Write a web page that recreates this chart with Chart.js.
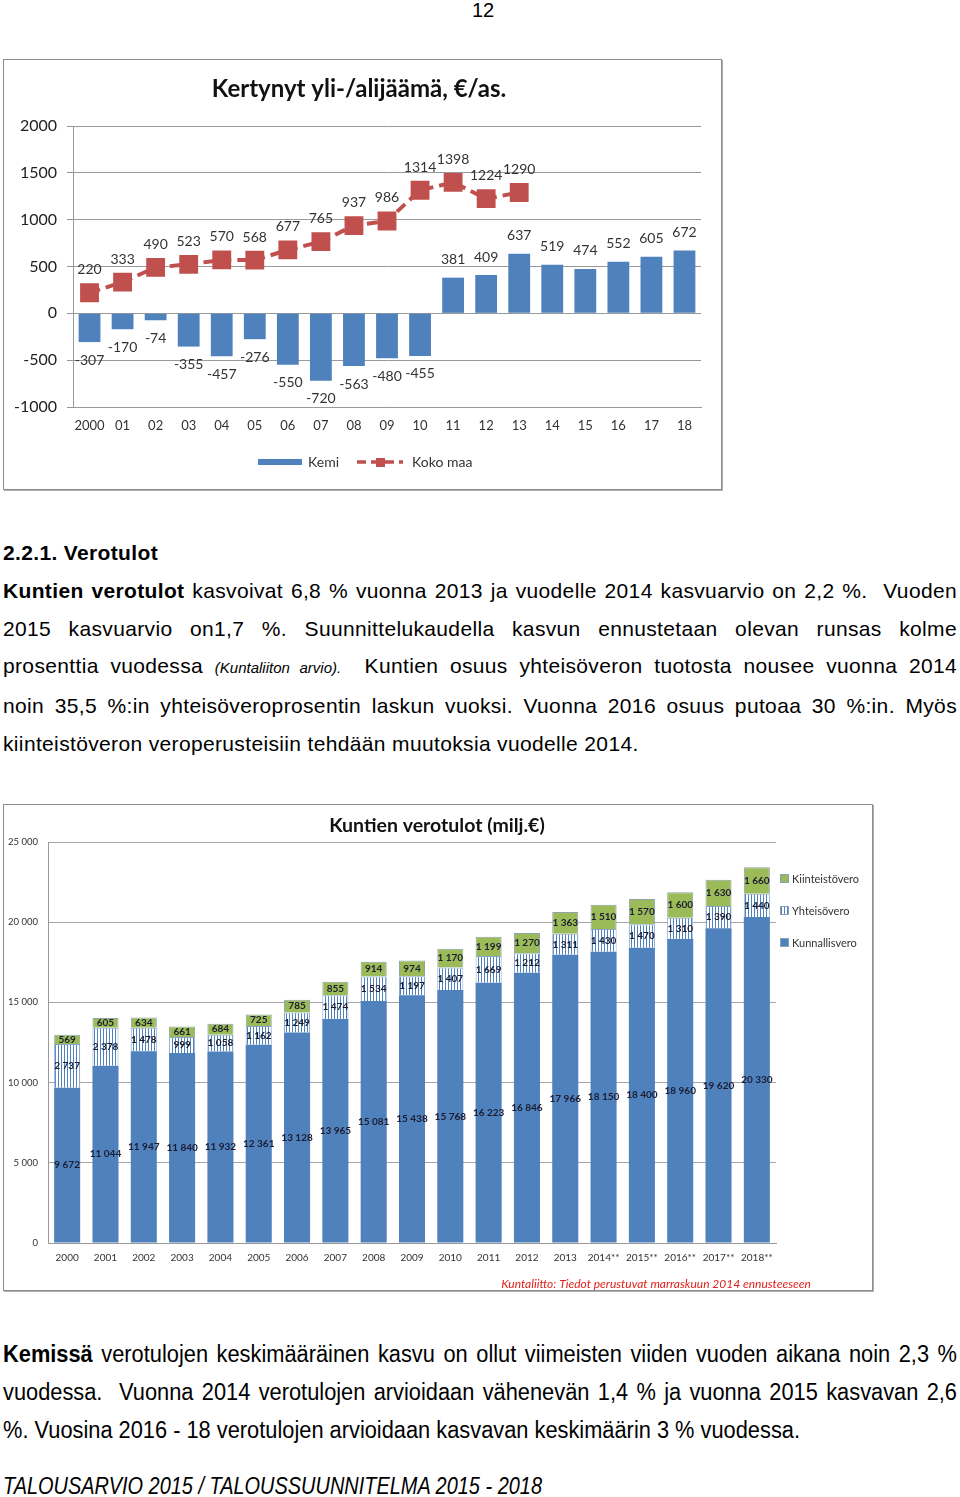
<!DOCTYPE html>
<html>
<head>
<meta charset="utf-8">
<script src="https://cdn.jsdelivr.net/npm/chart.js@4.4.1/dist/chart.umd.min.js"></script>
<style>
  body { margin: 0; background: #fff; width: 960px; height: 1497px; position: relative; overflow: hidden;
         font-family: "Liberation Sans", Arial, sans-serif; color: #000; }
  .abs { position: absolute; }
  .box { position: absolute; border: 1px solid #8c8c8c; box-shadow: 1px 1px 0 #b0b0b0; background: #fff; }
  .txt { left: 3px; width: 954px; font-size: 21px; letter-spacing: 0.35px; line-height: 37.75px; }
  .j { text-align: justify; text-align-last: justify; white-space: nowrap; }
  .narrow { font-size: 23.5px; letter-spacing: 0; line-height: 38px; transform-origin: 0 0; }
</style>
</head>
<body>
<div class="abs" style="left:463px;top:0;width:40px;text-align:center;font-size:20px;line-height:20px;">12</div>

<div class="box" style="left:3px;top:59px;width:717px;height:429px;">
  <canvas id="c1" width="717" height="429" style="width:717px;height:429px;display:block"></canvas>
</div>

<div class="abs txt" style="top:534px;">
  <div style="font-weight:bold">2.2.1. Verotulot</div>
  <div class="j"><b>Kuntien verotulot</b> kasvoivat 6,8 % vuonna 2013 ja vuodelle 2014 kasvuarvio on 2,2 %.&nbsp; Vuoden</div>
  <div class="j">2015 kasvuarvio on1,7 %. Suunnittelukaudella kasvun ennustetaan olevan runsas kolme</div>
  <div class="j">prosenttia vuodessa <i style="font-size:15px;letter-spacing:0">(Kuntaliiton arvio).</i>&nbsp; Kuntien osuus yhteisöveron tuotosta nousee vuonna 2014</div>
  <div class="j">noin 35,5 %:in yhteisöveroprosentin laskun vuoksi. Vuonna 2016 osuus putoaa 30 %:in. Myös</div>
  <div>kiinteistöveron veroperusteisiin tehdään muutoksia vuodelle 2014.</div>
</div>

<div class="box" style="left:3px;top:804px;width:868px;height:485px;">
  <canvas id="c2" width="868" height="485" style="width:868px;height:485px;display:block"></canvas>
</div>

<div id="p2" class="abs txt narrow" style="top:1335px;">
  <div class="j"><b>Kemissä</b> verotulojen keskimääräinen kasvu on ollut viimeisten viiden vuoden aikana noin 2,3 %</div>
  <div class="j">vuodessa.&nbsp; Vuonna 2014 verotulojen arvioidaan vähenevän 1,4 % ja vuonna 2015 kasvavan 2,6</div>
  <div><span class="probe">%. Vuosina 2016 - 18 verotulojen arvioidaan kasvavan keskimäärin 3 % vuodessa.</span></div>
</div>
<div id="foot" class="abs txt narrow" style="top:1467px;font-style:italic;"><span class="probe">TALOUSARVIO 2015 / TALOUSSUUNNITELMA 2015 - 2018</span></div>

<script>
// --- chart 1: kertynyt yli-/alijäämä
const years1 = ["2000", "01", "02", "03", "04", "05", "06", "07", "08", "09",
                "10", "11", "12", "13", "14", "15", "16", "17", "18"];
const kemi = [-307, -170, -74, -355, -457, -276, -550, -720, -563, -480,
              -455, 381, 409, 637, 519, 474, 552, 605, 672];
const kokoMaa = [220, 333, 490, 523, 570, 568, 677, 765, 937, 986, 1314, 1398, 1224, 1290];
const ticks1 = [-1000, -500, 0, 500, 1000, 1500, 2000];

// --- chart 2: kuntien verotulot
const years2 = ["2000", "2001", "2002", "2003", "2004", "2005", "2006", "2007", "2008", "2009",
                "2010", "2011", "2012", "2013", "2014**", "2015**", "2016**", "2017**", "2018**"];
const kunnallisvero = [9672, 11044, 11947, 11840, 11932, 12361, 13128, 13965, 15081, 15438,
                       15768, 16223, 16846, 17966, 18150, 18400, 18960, 19620, 20330];
const yhteisovero = [2737, 2378, 1478, 999, 1058, 1162, 1249, 1474, 1534, 1197,
                     1407, 1669, 1212, 1311, 1430, 1470, 1310, 1390, 1440];
const kiinteistovero = [569, 605, 634, 661, 684, 725, 785, 855, 914, 974,
                        1170, 1199, 1270, 1363, 1510, 1570, 1600, 1630, 1660];
const ticks2 = [0, 5000, 10000, 15000, 20000, 25000];

const BLUE = "#4F81BD", RED = "#C0504D", GREEN = "#9BBB59";
const FONT = "Lato, 'Open Sans', sans-serif";

// narrow look of the lower text: squeeze Liberation Sans horizontally
function squeeze(id, target) {
  const el = document.getElementById(id);
  const w = el.querySelector(".probe").getBoundingClientRect().width;
  const k = target / w;
  el.style.width = (954 / k) + "px";
  el.style.transform = "scaleX(" + k + ")";
}
squeeze("p2", 797);
squeeze("foot", 539);

function spaced(n) { return String(n).replace(/\B(?=(\d{3})+(?!\d))/g, " "); }
function plain(n) { return String(n); }

// striped fill like excel's vertical pattern
function stripes() {
  const c = document.createElement("canvas");
  c.width = 3; c.height = 6;
  const x = c.getContext("2d");
  x.fillStyle = "#fff"; x.fillRect(0, 0, 3, 6);
  x.fillStyle = BLUE; x.fillRect(0, 0, 1, 6);
  return x.createPattern(c, "repeat");
}
const stripePattern = stripes();

// simple data label plugin (no datalabels plugin available)
const valueLabels = {
  id: "valueLabels",
  afterDatasetsDraw(chart) {
    const ctx = chart.ctx;
    chart.data.datasets.forEach((ds, i) => {
      if (!ds.lbl) return;
      const meta = chart.getDatasetMeta(i);
      ctx.save();
      ctx.font = ds.lbl.font;
      ctx.fillStyle = ds.lbl.color;
      ctx.textAlign = "center";
      ctx.textBaseline = "middle";
      meta.data.forEach((el, j) => {
        const v = ds.data[j];
        if (v == null) return;
        let y;
        if (ds.lbl.mode === "center") y = (el.y + el.base) / 2;
        else if (ds.lbl.mode === "end") y = el.y + (v < 0 ? ds.lbl.off : -ds.lbl.off);
        else y = el.y - ds.lbl.off;
        ctx.fillText(ds.lbl.fmt(v), el.x, y);
      });
      ctx.restore();
    });
  }
};

const deco1 = {
  id: "deco1",
  afterDraw(chart) {
    const ctx = chart.ctx;
    ctx.save();
    ctx.fillStyle = "#111";
    ctx.font = "bold 24px " + FONT;
    ctx.textAlign = "center";
    ctx.textBaseline = "middle";
    ctx.fillText("Kertynyt yli-/alijäämä, €/as.", 355, 29);
    // legend
    ctx.font = "14px " + FONT;
    ctx.textAlign = "left";
    ctx.fillStyle = BLUE;
    ctx.fillRect(254, 399, 44, 6);
    ctx.fillStyle = "#333";
    ctx.fillText("Kemi", 304, 402);
    ctx.strokeStyle = RED;
    ctx.lineWidth = 3.5;
    ctx.setLineDash([9, 5]);
    ctx.beginPath(); ctx.moveTo(353, 402); ctx.lineTo(399, 402); ctx.stroke();
    ctx.setLineDash([]);
    ctx.fillStyle = RED;
    ctx.fillRect(372, 398, 9, 9);
    ctx.fillStyle = "#333";
    ctx.fillText("Koko maa", 408, 402);
    ctx.restore();
  }
};

new Chart(document.getElementById("c1"), {
  data: {
    labels: years1,
    datasets: [
      {
        type: "line", label: "Koko maa", data: kokoMaa, order: 1,
        borderColor: RED, borderWidth: 4, borderDash: [11, 6],
        pointStyle: "rect", pointRadius: 10.5, pointBackgroundColor: RED, pointBorderColor: RED,
        lbl: { mode: "above", off: 23, font: "14px " + FONT, color: "#333", fmt: plain }
      },
      {
        type: "bar", label: "Kemi", data: kemi, order: 2,
        backgroundColor: BLUE, barPercentage: 0.66, categoryPercentage: 1,
        lbl: { mode: "end", off: 18, font: "14px " + FONT, color: "#333", fmt: plain }
      }
    ]
  },
  options: {
    responsive: false, animation: false,
    layout: { padding: { top: 66, right: 20, left: 0, bottom: 0 } },
    plugins: { legend: { display: false }, title: { display: false }, tooltip: { enabled: false } },
    scales: {
      x: {
        grid: { display: false, drawTicks: false },
        border: { display: true, color: "#999" },
        ticks: { color: "#333", font: { family: FONT, size: 13 }, padding: 11, maxRotation: 0, autoSkip: false },
        afterFit(s) { s.height = 82; }
      },
      y: {
        min: -1000, max: 2000,
        afterBuildTicks(s) { s.ticks = ticks1.map(v => ({ value: v })); },
        grid: { color: "#999", tickLength: 6 },
        border: { display: true, color: "#999" },
        ticks: { color: "#222", font: { family: FONT, size: 16 }, padding: 10, callback: v => plain(v) },
        afterFit(s) { s.width = 69; }
      }
    }
  },
  plugins: [valueLabels, deco1]
});

const deco2 = {
  id: "deco2",
  afterDraw(chart) {
    const ctx = chart.ctx;
    ctx.save();
    ctx.fillStyle = "#111";
    ctx.font = "bold 19.5px " + FONT;
    ctx.textAlign = "center";
    ctx.textBaseline = "middle";
    ctx.fillText("Kuntien verotulot (milj.€)", 433, 21);
    // legend
    const items = [["Kiinteistövero", GREEN], ["Yhteisövero", stripePattern], ["Kunnallisvero", BLUE]];
    ctx.font = "11px " + FONT;
    ctx.textAlign = "left";
    items.forEach((it, k) => {
      const y = 73 + k * 32;
      ctx.fillStyle = it[1];
      ctx.fillRect(776, y - 4, 9, 9);
      ctx.strokeStyle = "#8aa0b8"; ctx.lineWidth = 1;
      ctx.strokeRect(776.5, y - 3.5, 8, 8);
      ctx.fillStyle = "#333";
      ctx.fillText(it[0], 788, y + 1);
    });
    // source note
    ctx.font = "italic 12px " + FONT;
    ctx.fillStyle = "#E0201B";
    ctx.textAlign = "center";
    ctx.fillText("Kuntaliitto: Tiedot perustuvat marraskuun 2014 ennusteeseen", 652, 479);
    ctx.restore();
  }
};

const lbl2 = { mode: "center", font: "bold 10px " + FONT, color: "#1c1c30", fmt: spaced };
new Chart(document.getElementById("c2"), {
  type: "bar",
  data: {
    labels: years2,
    datasets: [
      { label: "Kunnallisvero", data: kunnallisvero, backgroundColor: BLUE, lbl: lbl2,
        barPercentage: 0.68, categoryPercentage: 1 },
      { label: "Yhteisövero", data: yhteisovero, backgroundColor: stripePattern, borderColor: "#8aa6cc", borderWidth: 1,
        lbl: lbl2, barPercentage: 0.68, categoryPercentage: 1 },
      { label: "Kiinteistövero", data: kiinteistovero, backgroundColor: GREEN, borderColor: "#8fa3a8", borderWidth: 1,
        lbl: lbl2, barPercentage: 0.68, categoryPercentage: 1 }
    ]
  },
  options: {
    responsive: false, animation: false,
    layout: { padding: { top: 37, right: 96, left: 0, bottom: 0 } },
    plugins: { legend: { display: false }, title: { display: false }, tooltip: { enabled: false } },
    scales: {
      x: {
        stacked: true,
        grid: { display: false, drawTicks: false },
        border: { display: true, color: "#999" },
        ticks: { color: "#333", font: { family: FONT, size: 10 }, padding: 9, maxRotation: 0, autoSkip: false },
        afterFit(s) { s.height = 47; }
      },
      y: {
        stacked: true, min: 0, max: 25000,
        afterBuildTicks(s) { s.ticks = ticks2.map(v => ({ value: v })); },
        grid: { color: "#a6a6a6", drawTicks: false },
        border: { display: true, color: "#999" },
        ticks: { color: "#333", font: { family: FONT, size: 9.5 }, padding: 10, callback: v => spaced(v) },
        afterFit(s) { s.width = 44; }
      }
    }
  },
  plugins: [valueLabels, deco2]
});
</script>
</body>
</html>
